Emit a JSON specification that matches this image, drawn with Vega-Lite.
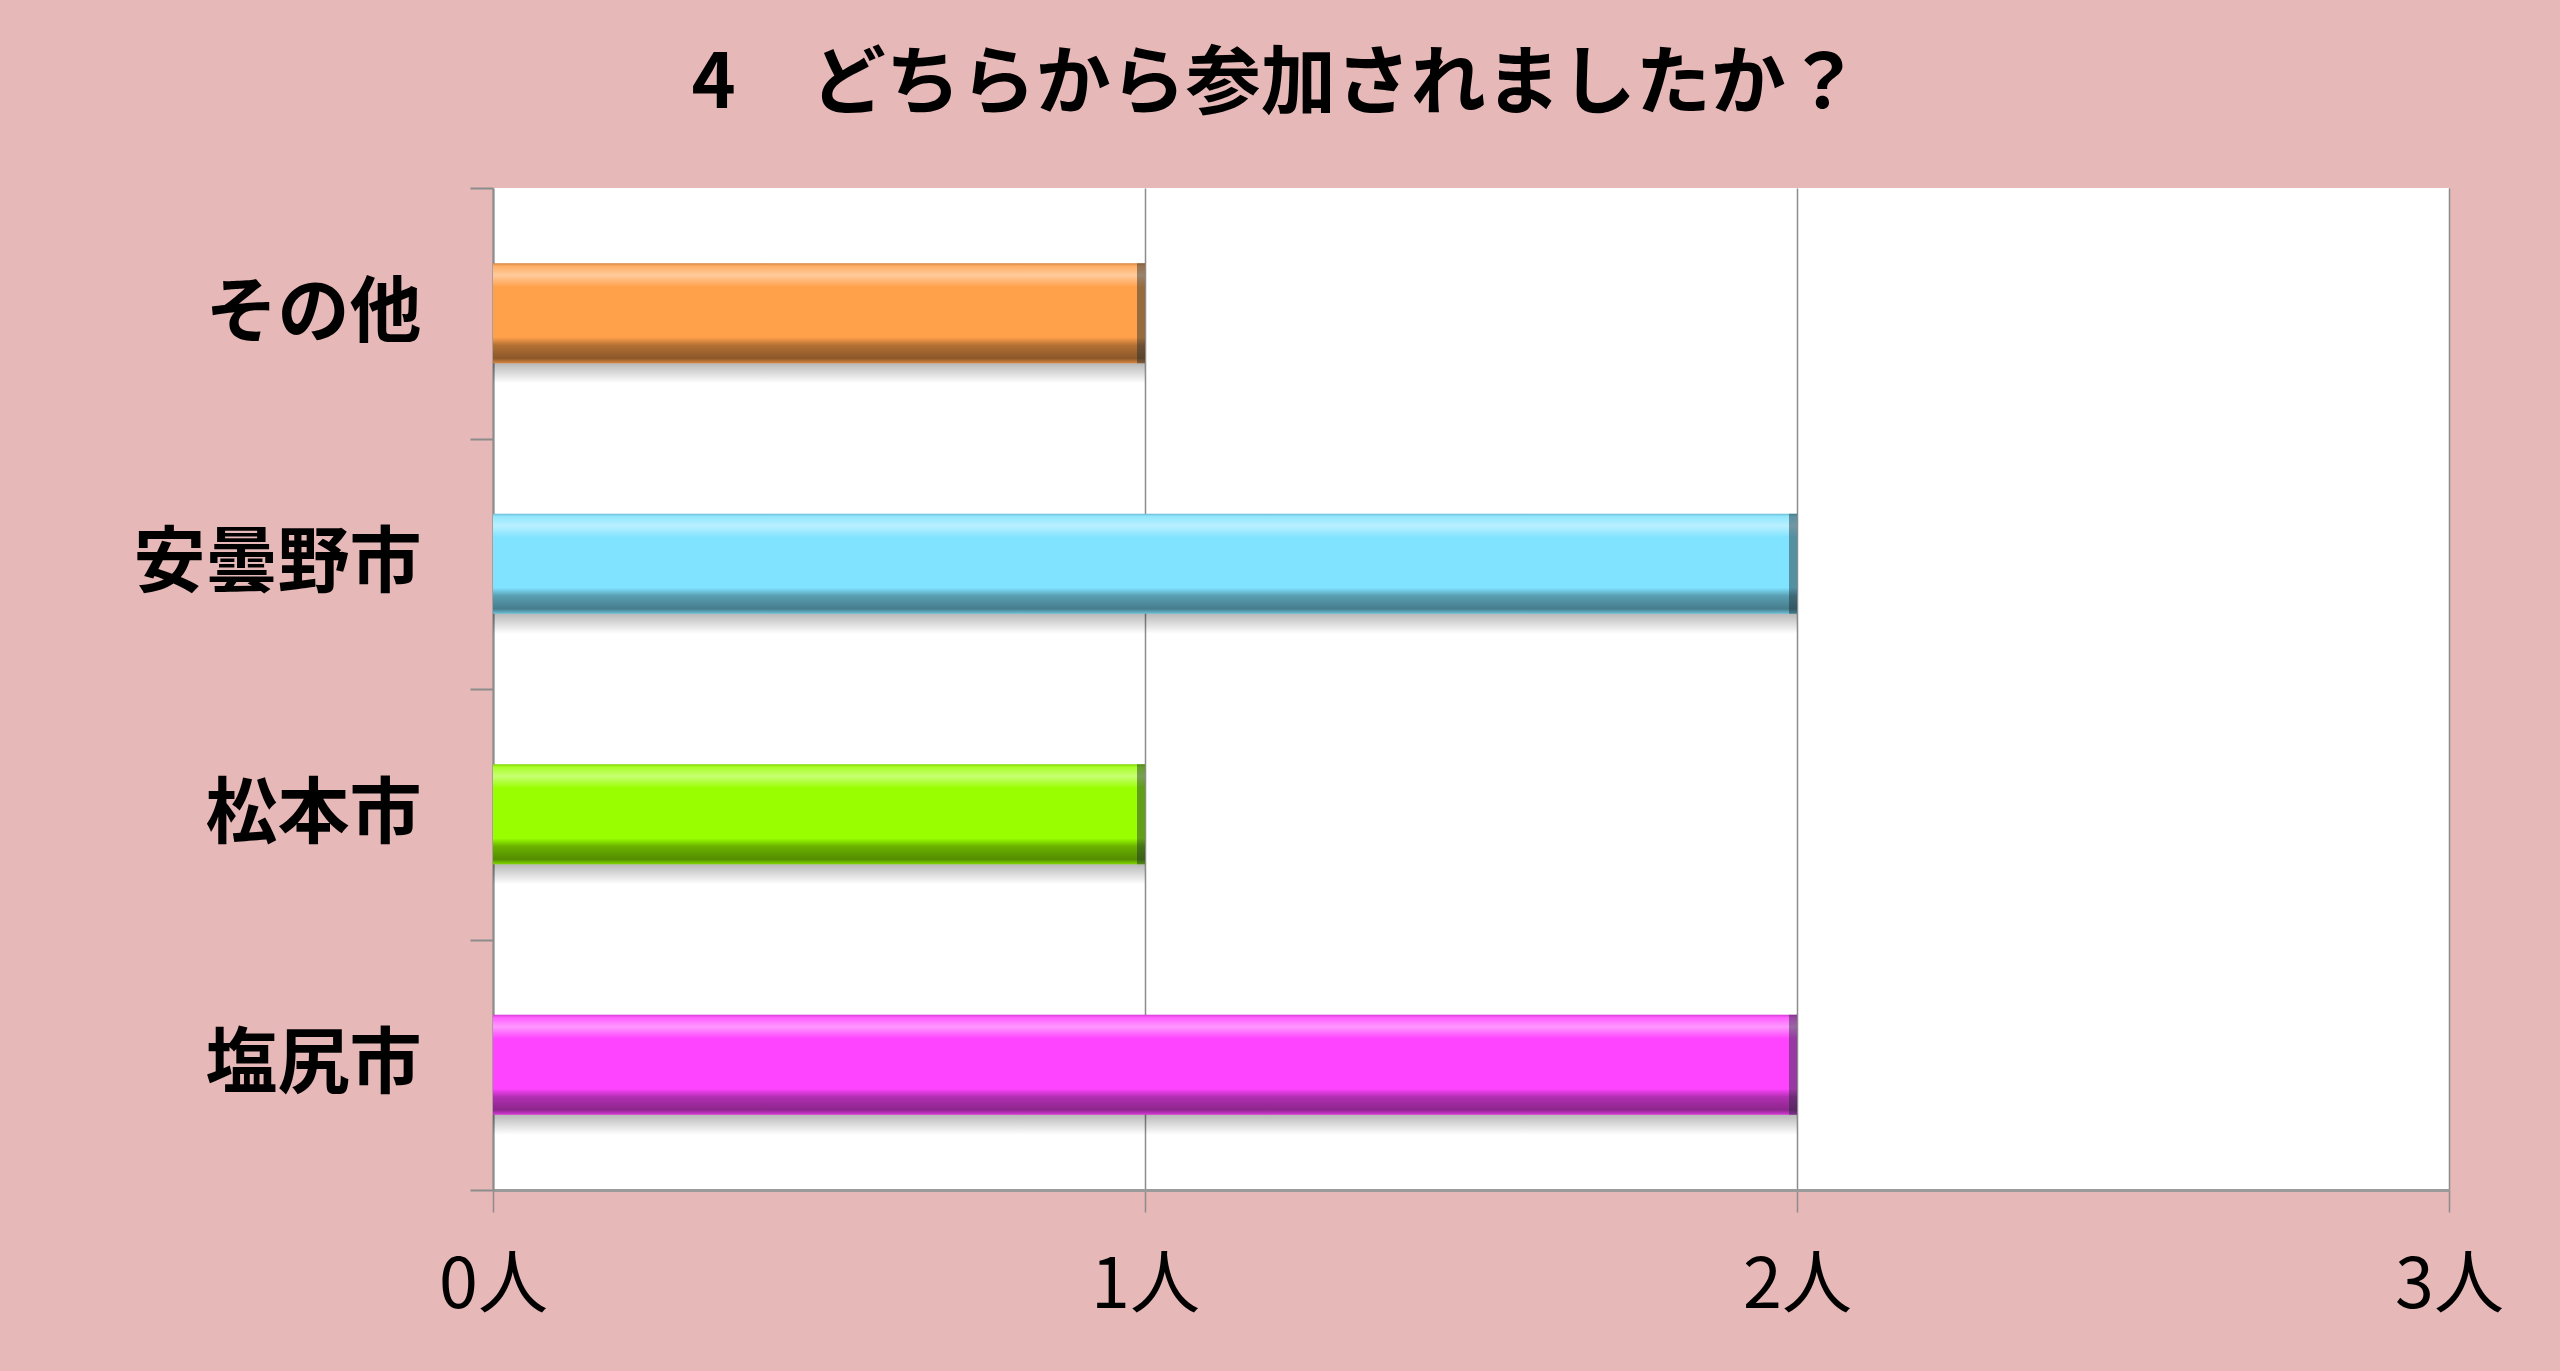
{
  "$schema": "https://vega.github.io/schema/vega-lite/v6.json",
  "description": "4 どちらから参加されましたか？ (horizontal bar chart)",
  "width": 1956,
  "height": 1002,
  "autosize": "none",
  "padding": {"left": 493, "top": 188, "right": 111, "bottom": 181},
  "background": "#e6b8b7",
  "view": {"fill": "white", "stroke": null},
  "title": {
    "text": "4　どちらから参加されましたか？",
    "font": "Noto Sans CJK JP",
    "fontSize": 75,
    "fontWeight": "bold",
    "color": "black",
    "anchor": "middle",
    "frame": "group",
    "dx": -195,
    "offset": 28
  },
  "data": {
    "values": [
      {"area": "その他", "count": 1},
      {"area": "安曇野市", "count": 2},
      {"area": "松本市", "count": 1},
      {"area": "塩尻市", "count": 2}
    ]
  },
  "encoding": {
    "y": {
      "field": "area",
      "type": "nominal",
      "sort": ["その他", "安曇野市", "松本市", "塩尻市"],
      "title": null,
      "scale": {"paddingInner": 0, "paddingOuter": 0},
      "axis": {
        "tickBand": "extent",
        "tickSize": 23,
        "tickColor": "#8c8c8c",
        "tickWidth": 2,
        "domainColor": "#8c8c8c",
        "domainWidth": 2,
        "labelFont": "Noto Sans CJK JP",
        "labelFontSize": 72,
        "labelFontWeight": "bold",
        "labelColor": "black",
        "labelPadding": 49,
        "labelLimit": 0,
        "grid": false
      }
    },
    "x": {
      "field": "count",
      "type": "quantitative",
      "title": null,
      "scale": {"domain": [0, 3], "nice": false},
      "axis": {
        "values": [0, 1, 2, 3],
        "labelExpr": "datum.label + '人'",
        "format": "d",
        "labelFlush": false,
        "grid": true,
        "gridColor": "#8c8c8c",
        "gridWidth": 1.5,
        "tickSize": 22,
        "tickColor": "#8c8c8c",
        "tickWidth": 1.5,
        "domainColor": "#9a9a9a",
        "domainWidth": 3,
        "labelFont": "Noto Sans CJK JP",
        "labelFontSize": 70,
        "labelColor": "black",
        "labelPadding": 40,
        "labelBaseline": "top"
      }
    }
  },
  "layer": [
    {
      "mark": {
        "type": "bar",
        "height": {"band": 0.4},
        "yOffset": 20,
        "fill": {
          "gradient": "linear",
          "x1": 0, "y1": 0, "x2": 0, "y2": 1,
          "stops": [
            {"offset": 0, "color": "rgba(0,0,0,0.35)"},
            {"offset": 0.78, "color": "rgba(0,0,0,0.3)"},
            {"offset": 1, "color": "rgba(0,0,0,0)"}
          ]
        }
      }
    },
    {
      "mark": {"type": "bar", "height": {"band": 0.4}},
      "encoding": {
        "color": {
          "field": "area",
          "type": "nominal",
          "legend": null,
          "scale": {
            "domain": ["その他", "安曇野市", "松本市", "塩尻市"],
            "range": ["#ffa04a", "#80e3ff", "#99ff00", "#ff44ff"]
          }
        }
      }
    },
    {
      "mark": {
        "type": "bar",
        "height": {"band": 0.4},
        "fill": {
          "gradient": "linear",
          "x1": 0, "y1": 0, "x2": 0, "y2": 1,
          "stops": [
            {"offset": 0, "color": "rgba(0,0,0,0.18)"},
            {"offset": 0.03, "color": "rgba(255,255,255,0.15)"},
            {"offset": 0.12, "color": "rgba(255,255,255,0.45)"},
            {"offset": 0.24, "color": "rgba(255,255,255,0)"},
            {"offset": 0.74, "color": "rgba(0,0,0,0)"},
            {"offset": 0.82, "color": "rgba(0,0,0,0.3)"},
            {"offset": 0.95, "color": "rgba(0,0,0,0.45)"},
            {"offset": 1, "color": "rgba(0,0,0,0.15)"}
          ]
        }
      }
    },
    {
      "mark": {
        "type": "tick",
        "orient": "vertical",
        "thickness": 8,
        "size": 100,
        "xOffset": -4,
        "color": "#1a2a30",
        "opacity": 0.45
      }
    }
  ]
}
